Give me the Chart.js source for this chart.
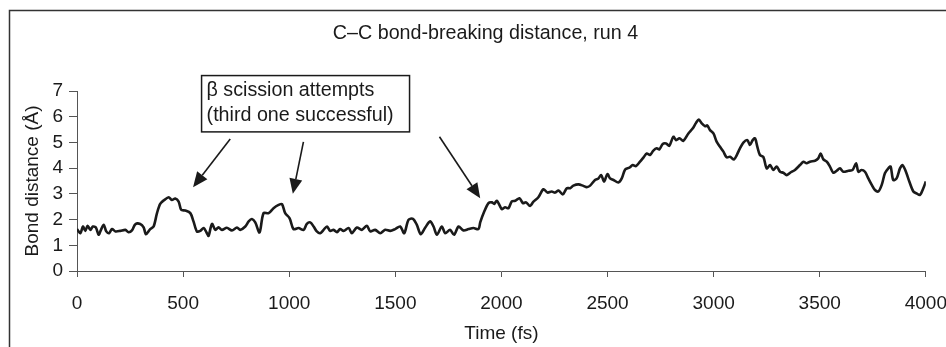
<!DOCTYPE html>
<html>
<head>
<meta charset="utf-8">
<script src="https://cdn.jsdelivr.net/npm/chart.js@4/dist/chart.umd.min.js"></script>
<style>
  html, body { margin: 0; padding: 0; background: #fff; overflow: hidden; }
  /* the original figure runs past the right edge of the picture */
  #wrap { width: 962px; height: 347px; position: relative; }
</style>
</head>
<body>
<div id="wrap"><canvas id="chart"></canvas></div>
<script>
// bond distance trace (time in fs, distance in Å)
var timeFs = [
  0, 16, 28, 39, 50, 63, 75, 89, 102, 113, 126, 138, 151, 165, 181, 204, 228, 243, 259, 275,
  298, 314, 325, 345, 361, 377, 392, 411, 432, 447, 463, 479, 491, 510, 534, 549, 565, 581, 597, 612,
  620, 636, 652, 667, 683, 706, 730, 754, 769, 793, 809, 824, 840, 860, 879, 903, 926, 950, 966, 981,
  1002, 1020, 1044, 1068, 1083, 1099, 1115, 1130, 1146, 1162, 1178, 1193, 1209, 1225, 1240, 1256, 1280, 1295, 1319, 1342,
  1366, 1382, 1405, 1429, 1452, 1476, 1499, 1523, 1542, 1562, 1583, 1601, 1620, 1641, 1664, 1680, 1696, 1719, 1735, 1758,
  1777, 1798, 1821, 1845, 1868, 1892,
  1900, 1919, 1939, 1955, 1966, 1978, 1994, 2002, 2017, 2033, 2049, 2065, 2085, 2101, 2116, 2135, 2151, 2174, 2198, 2217,
  2237, 2253, 2269, 2289, 2308, 2324, 2339, 2363, 2386, 2402, 2418, 2441, 2457, 2470, 2484, 2499, 2512, 2528, 2551, 2567,
  2583, 2603, 2619, 2634, 2653, 2669, 2685, 2700, 2716, 2732, 2744, 2760, 2776, 2791, 2810, 2823, 2839, 2857, 2881, 2901,
  2917, 2930, 2944, 2960, 2970, 2983, 2999, 3014, 3030, 3046, 3061, 3077, 3096, 3109, 3124, 3140, 3159, 3171, 3184, 3195,
  3206, 3218, 3234, 3250, 3266, 3281, 3297, 3313, 3328, 3344, 3360, 3383, 3407, 3423, 3438, 3454, 3478, 3493, 3504, 3517,
  3533, 3548, 3564, 3580, 3595, 3611, 3635, 3655, 3671, 3682, 3697, 3713, 3729, 3745, 3760, 3776, 3792, 3807, 3823, 3834,
  3846, 3862, 3878, 3890, 3906, 3922, 3941, 3956, 3972, 3988, 4000
];
var bondDistance = [
  1.63, 1.47, 1.73, 1.56, 1.76, 1.6, 1.73, 1.69, 1.41, 1.6, 1.8, 1.54, 1.47, 1.63, 1.54, 1.56, 1.6, 1.51, 1.58, 1.82,
  1.83, 1.7, 1.43, 1.63, 1.73, 2.25, 2.61, 2.76, 2.87, 2.76, 2.82, 2.7, 2.38, 2.35, 2.25, 1.93, 1.54, 1.56, 1.67, 1.47,
  1.37, 1.83, 1.6, 1.7, 1.6, 1.68, 1.58, 1.69, 1.6, 1.73, 1.93, 2.02, 1.89, 1.5, 2.25, 2.25, 2.44, 2.57, 2.6, 2.25,
  2.05, 1.63, 1.67, 1.6, 1.83, 1.89, 1.73, 1.54, 1.47, 1.6, 1.73, 1.56, 1.6, 1.51, 1.63, 1.56, 1.67, 1.47, 1.69, 1.6,
  1.76, 1.54, 1.6, 1.47, 1.6, 1.56, 1.63, 1.73, 1.47, 1.99, 2.03, 1.8, 1.43, 1.69, 1.93, 1.73, 1.41, 1.73, 1.47, 1.6,
  1.41, 1.73, 1.58, 1.63, 1.67, 1.63,
  1.89, 2.31, 2.64, 2.67, 2.61, 2.73, 2.51, 2.4, 2.48, 2.44, 2.71, 2.73, 2.83, 2.64, 2.67, 2.53, 2.7, 2.87, 3.18, 3.05,
  3.09, 3.05, 3.13, 2.98, 3.22, 3.22, 3.32, 3.37, 3.31, 3.26, 3.32, 3.54, 3.6, 3.73, 3.48, 3.77, 3.6, 3.54, 3.44, 3.6,
  3.95, 4.02, 4.12, 4.08, 4.25, 4.41, 4.57, 4.51, 4.68, 4.77, 4.73, 4.94, 4.96, 4.87, 5.22, 5.09, 5.16, 5.06, 5.35, 5.54,
  5.76, 5.89, 5.74, 5.63, 5.66, 5.48, 5.35, 5.03, 4.83, 4.64, 4.42, 4.44, 4.34, 4.51, 4.77, 4.99, 5.09, 4.9, 5.09, 5.16,
  4.83, 4.51, 4.44, 3.99, 4.12, 3.93, 4.06, 3.86, 3.82, 3.73, 3.82, 3.93, 4.12, 4.25, 4.19, 4.25, 4.29, 4.38, 4.57, 4.34,
  4.25, 4.06, 3.82, 3.9, 3.99, 3.86, 3.9, 3.93, 4.19, 3.86, 3.93, 3.86, 3.6, 3.35, 3.15, 3.09, 3.35, 3.8, 3.99, 4.06,
  3.54, 3.6, 3.99, 4.12, 3.86, 3.48, 3.09, 3.02, 2.96, 3.22, 3.48
];

var titleText = "C\u2013C bond-breaking distance, run 4";
var xTitle = "Time (fs)";
var yTitle = "Bond distance (\u00c5)";
var noteLines = ["\u03b2 scission attempts", "(third one successful)"];

// annotation box and arrows, in data units (fs, Å)
var noteBox = { x0: 587, x1: 1567, y0: 5.41, y1: 7.6 };
var arrows = [
  { from: [722, 5.13], to: [547, 3.26] },
  { from: [1067, 5.02], to: [1017, 3.0] },
  { from: [1708, 5.22], to: [1900, 2.83] }
];

var FONT = "'Liberation Sans', Arial, Helvetica, sans-serif";
var INK = "#1a1a1a";

// outer frame (only its left and top edges fall inside the picture) and the title,
// centred on the whole figure rather than on the plot
var frame = {
  id: "frame",
  beforeDraw: function (chart) {
    var ctx = chart.ctx;
    ctx.save();
    ctx.fillStyle = "#fff";
    ctx.fillRect(0, 0, chart.width, chart.height);
    ctx.strokeStyle = "#333";
    ctx.lineWidth = 1.5;
    ctx.beginPath();
    ctx.moveTo(9.5, chart.height);
    ctx.lineTo(9.5, 10.5);
    ctx.lineTo(chart.width, 10.5);
    ctx.stroke();
    ctx.fillStyle = INK;
    ctx.font = "19.7px " + FONT;
    ctx.textAlign = "center";
    ctx.textBaseline = "middle";
    ctx.fillText(titleText, (9 + chart.width) / 2, 34);
    ctx.restore();
  }
};

var notes = {
  id: "notes",
  afterDatasetsDraw: function (chart) {
    var ctx = chart.ctx;
    var xs = chart.scales.x, ys = chart.scales.y;
    ctx.save();
    var bx0 = xs.getPixelForValue(noteBox.x0), bx1 = xs.getPixelForValue(noteBox.x1);
    var by0 = ys.getPixelForValue(noteBox.y1), by1 = ys.getPixelForValue(noteBox.y0);
    ctx.fillStyle = "#fff";
    ctx.fillRect(bx0, by0, bx1 - bx0, by1 - by0);
    ctx.strokeStyle = INK;
    ctx.lineWidth = 1.5;
    ctx.strokeRect(bx0, by0, bx1 - bx0, by1 - by0);
    ctx.fillStyle = INK;
    ctx.font = "19.7px " + FONT;
    ctx.textBaseline = "alphabetic";
    ctx.fillText(noteLines[0], bx0 + 5, by0 + 20);
    ctx.fillText(noteLines[1], bx0 + 5, by0 + 45);

    arrows.forEach(function (a) {
      var x0 = xs.getPixelForValue(a.from[0]), y0 = ys.getPixelForValue(a.from[1]);
      var x1 = xs.getPixelForValue(a.to[0]), y1 = ys.getPixelForValue(a.to[1]);
      var ang = Math.atan2(y1 - y0, x1 - x0);
      var hl = 15, hw = 6.5;
      var bx = x1 - hl * Math.cos(ang), by = y1 - hl * Math.sin(ang);
      ctx.beginPath();
      ctx.moveTo(x0, y0);
      ctx.lineTo(bx, by);
      ctx.lineWidth = 1.6;
      ctx.stroke();
      ctx.beginPath();
      ctx.moveTo(x1, y1);
      ctx.lineTo(bx + hw * Math.sin(ang), by - hw * Math.cos(ang));
      ctx.lineTo(bx - hw * Math.sin(ang), by + hw * Math.cos(ang));
      ctx.closePath();
      ctx.fill();
    });
    ctx.restore();
  }
};

var points = timeFs.map(function (t, i) { return { x: t, y: bondDistance[i] }; });
var plain = function (v) { return String(v); };

new Chart(document.getElementById("chart"), {
  type: "line",
  data: {
    datasets: [{
      data: points,
      borderColor: "#1a1a1a",
      borderWidth: 2.6,
      pointRadius: 0,
      tension: 0.3,
      fill: false
    }]
  },
  options: {
    responsive: true,
    maintainAspectRatio: false,
    animation: false,
    layout: { padding: { left: 0, right: 0, top: 91, bottom: 0 } },
    plugins: {
      legend: { display: false },
      tooltip: { enabled: false },
      title: { display: false }
    },
    scales: {
      x: {
        type: "linear",
        min: 0,
        max: 4000,
        ticks: { stepSize: 500, color: INK, padding: 15, maxRotation: 0, autoSkip: false, callback: plain, font: { family: FONT, size: 19 } },
        grid: { drawOnChartArea: false, tickLength: 6, color: "#555" },
        border: { color: "#555", width: 1 },
        title: { display: true, text: xTitle, color: INK, font: { family: FONT, size: 19 }, padding: { top: 0, bottom: 2 } },
        afterFit: function (scale) { scale.height = 76; }
      },
      y: {
        min: 0,
        max: 7,
        ticks: { stepSize: 1, color: INK, padding: 6, autoSkip: false, callback: plain, font: { family: FONT, size: 19 } },
        grid: { drawOnChartArea: false, tickLength: 8, color: "#555" },
        border: { color: "#555", width: 1 },
        title: { display: true, text: yTitle, color: INK, font: { family: FONT, size: 19 }, padding: { top: 21, bottom: 0 } },
        afterFit: function (scale) { scale.width = 77; }
      }
    }
  },
  plugins: [frame, notes]
});
</script>
</body>
</html>
